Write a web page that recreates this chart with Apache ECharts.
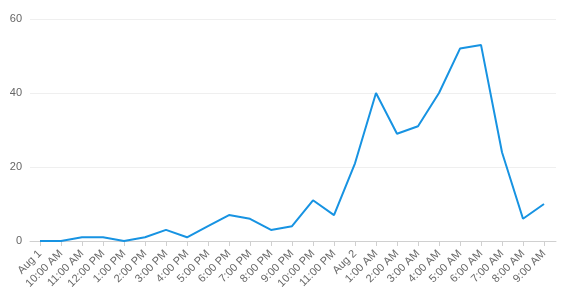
<!DOCTYPE html>
<html><head><meta charset="utf-8">
<script src="https://cdn.jsdelivr.net/npm/echarts@6/dist/echarts.min.js"></script>
<style>html,body{margin:0;padding:0;background:#fff}#c{width:564px;height:308px}</style>
</head><body><div id="c"></div>
<script>
const categories = ["Aug 1","10:00 AM","11:00 AM","12:00 PM","1:00 PM","2:00 PM","3:00 PM","4:00 PM","5:00 PM","6:00 PM","7:00 PM","8:00 PM","9:00 PM","10:00 PM","11:00 PM","Aug 2","1:00 AM","2:00 AM","3:00 AM","4:00 AM","5:00 AM","6:00 AM","7:00 AM","8:00 AM","9:00 AM"];
const values = [0,0,1,1,0,1,3,1,4,7,6,3,4,11,7,21,40,29,31,40,52,53,24,6,10];
const yTicks = [0,20,40,60];

const chart = echarts.init(document.getElementById('c'), null, {renderer:'canvas'});
chart.setOption({
  animation:false,
  grid:[
    {left:30,right:8,top:19,bottom:67},
    {left:40,right:20,top:19,bottom:67}
  ],
  xAxis:[
    {gridIndex:0,type:'value',min:0,max:1,axisLine:{show:true,lineStyle:{color:'#d0d0d0'}},axisTick:{show:false},axisLabel:{show:false},splitLine:{show:false}},
    {gridIndex:1,type:'category',data:categories,boundaryGap:false,
     axisLine:{show:false},
     axisTick:{show:true,length:5,lineStyle:{color:'#d0d0d0'}},
     axisLabel:{interval:0,rotate:45,fontSize:11,color:'#666',margin:11,fontFamily:'Liberation Sans, Arial, sans-serif'},
     splitLine:{show:false}}
  ],
  yAxis:[
    {gridIndex:0,type:'value',min:yTicks[0],max:yTicks[yTicks.length-1],interval:20,
     axisLine:{show:false},axisTick:{show:false},
     axisLabel:{fontSize:11,color:'#666',margin:8,fontFamily:'Liberation Sans, Arial, sans-serif'},
     splitLine:{show:true,lineStyle:{color:'#efefef'}}},
    {gridIndex:1,type:'value',min:0,max:60,show:false}
  ],
  series:[{
    type:'line',xAxisIndex:1,yAxisIndex:1,data:values,
    symbol:'none',lineStyle:{color:'#1793e2',width:2},itemStyle:{color:'#1793e2'}
  }]
});
</script></body></html>
